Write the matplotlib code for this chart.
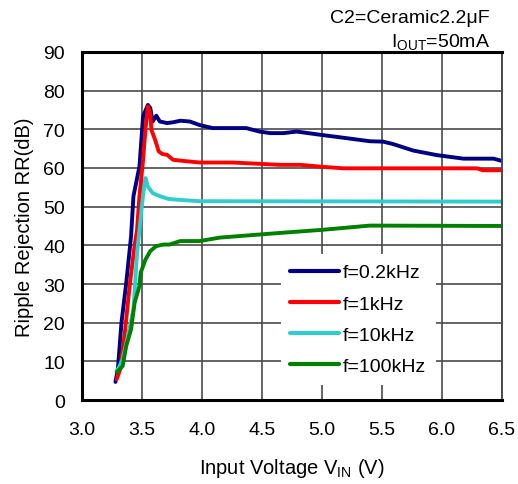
import matplotlib
matplotlib.use('Agg')
import matplotlib.pyplot as plt

# -----------------------------
# DATA
# -----------------------------
labels = ["f=0.2kHz", "f=1kHz", "f=10kHz", "f=100kHz"]
colors = ["#000080", "#FF0000", "#33CCCC", "#008000"]

v_02k = [3.28, 3.30, 3.33, 3.37, 3.41, 3.43, 3.48, 3.51, 3.55, 3.57, 3.59, 3.62, 3.65,
         3.71, 3.76, 3.82, 3.90, 3.98, 4.09, 4.37, 4.48, 4.57, 4.68, 4.79, 4.98, 5.18,
         5.40, 5.51, 5.59, 5.76, 5.96, 6.18, 6.43, 6.50]
rr_02k = [4.7, 8.0, 20.0, 30.3, 42.3, 52.7, 60.4, 73.3, 76.3, 75.5, 72.0, 73.5, 72.0,
          71.6, 71.8, 72.2, 72.0, 71.1, 70.3, 70.3, 69.4, 69.0, 69.0, 69.4, 68.6, 67.8,
          66.9, 66.8, 66.2, 64.5, 63.3, 62.4, 62.4, 61.8]

v_1k = [3.29, 3.32, 3.36, 3.40, 3.44, 3.46, 3.48, 3.51, 3.53, 3.55, 3.57, 3.58, 3.61,
        3.64, 3.67, 3.71, 3.76, 3.85, 3.98, 4.26, 4.65, 4.82, 5.00, 5.18, 6.29, 6.34, 6.50]
rr_1k = [5.4, 8.0, 18.0, 30.0, 40.0, 44.0, 52.7, 62.0, 70.0, 75.9, 74.0, 69.8, 67.3,
         64.3, 63.6, 63.4, 62.1, 61.8, 61.4, 61.4, 60.8, 60.8, 60.3, 59.9, 59.9, 59.4, 59.4]

v_10k = [3.29, 3.31, 3.34, 3.38, 3.43, 3.46, 3.48, 3.51, 3.53, 3.55, 3.59, 3.65, 3.72,
         3.79, 3.98, 6.50]
rr_10k = [7.6, 8.5, 10.6, 16.0, 23.5, 38.0, 44.0, 53.0, 57.4, 55.2, 53.5, 52.7, 52.0,
          51.8, 51.4, 51.3]

v_100k = [3.29, 3.34, 3.37, 3.41, 3.44, 3.48, 3.49, 3.53, 3.57, 3.62, 3.68, 3.73, 3.82,
          3.98, 4.15, 4.65, 5.00, 5.40, 6.50]
rr_100k = [7.2, 8.8, 14.0, 18.3, 25.2, 29.5, 32.9, 36.3, 38.5, 39.8, 40.2, 40.2, 41.1,
           41.1, 42.0, 43.2, 44.0, 45.1, 45.0]

x_ticks = [3.0, 3.5, 4.0, 4.5, 5.0, 5.5, 6.0, 6.5]
y_ticks = [0, 10, 20, 30, 40, 50, 60, 70, 80, 90]


def main():
    plt.rcParams['font.family'] = ['Liberation Sans', 'DejaVu Sans']
    plt.rcParams['mathtext.fontset'] = 'custom'
    plt.rcParams['mathtext.rm'] = 'Liberation Sans'

    fig = plt.figure(figsize=(5.18, 4.85), dpi=100)
    ax = fig.add_axes([0.158, 0.173, 0.811, 0.718])

    series = [(v_02k, rr_02k), (v_1k, rr_1k), (v_10k, rr_10k), (v_100k, rr_100k)]
    for (xs, ys), lab, col in zip(series, labels, colors):
        ax.plot(xs, ys, color=col, lw=2.8, label=lab, solid_capstyle='round')

    ax.set_xlim(3.0, 6.5)
    ax.set_ylim(0, 90)
    ax.set_xticks(x_ticks)
    ax.set_yticks(y_ticks)
    ax.set_xticklabels([f"{t:.1f}" for t in x_ticks])
    ax.tick_params(axis='both', length=0, labelsize=14)
    ax.tick_params(axis='x', pad=15)
    ax.tick_params(axis='y', pad=12)
    ax.grid(True, color='#4a4a4a', lw=1.2)
    ax.set_axisbelow(True)

    for side in ['left', 'bottom', 'top']:
        ax.spines[side].set_linewidth(2.2)
        ax.spines[side].set_color('black')
    ax.spines['right'].set_linewidth(1.4)
    ax.spines['right'].set_color('#4a4a4a')

    ax.set_xlabel(r"Input Voltage V$\mathregular{_{IN}}$ (V)", fontsize=14.5, labelpad=13)
    ax.set_ylabel("Ripple Rejection RR(dB)", fontsize=14.5, labelpad=7)

    leg = ax.legend(loc='upper left', bbox_to_anchor=(0.45, 0.447), fontsize=14,
                    handlelength=2.5, handletextpad=0.2, labelspacing=0.7,
                    frameon=True, fancybox=False, borderpad=0.5)
    leg.get_frame().set_facecolor('white')
    leg.get_frame().set_edgecolor('none')
    leg.get_frame().set_alpha(1.0)
    for line in leg.get_lines():
        line.set_linewidth(3)

    fig.text(0.946, 0.9526, "C2=Ceramic2.2\u03bcF", ha='right', va='baseline', fontsize=14)
    fig.text(0.946, 0.903, r"I$\mathregular{_{OUT}}$=50mA", ha='right', va='baseline', fontsize=14)

    fig.savefig("out.png", dpi=100)
    plt.close(fig)


if __name__ == "__main__":
    main()
